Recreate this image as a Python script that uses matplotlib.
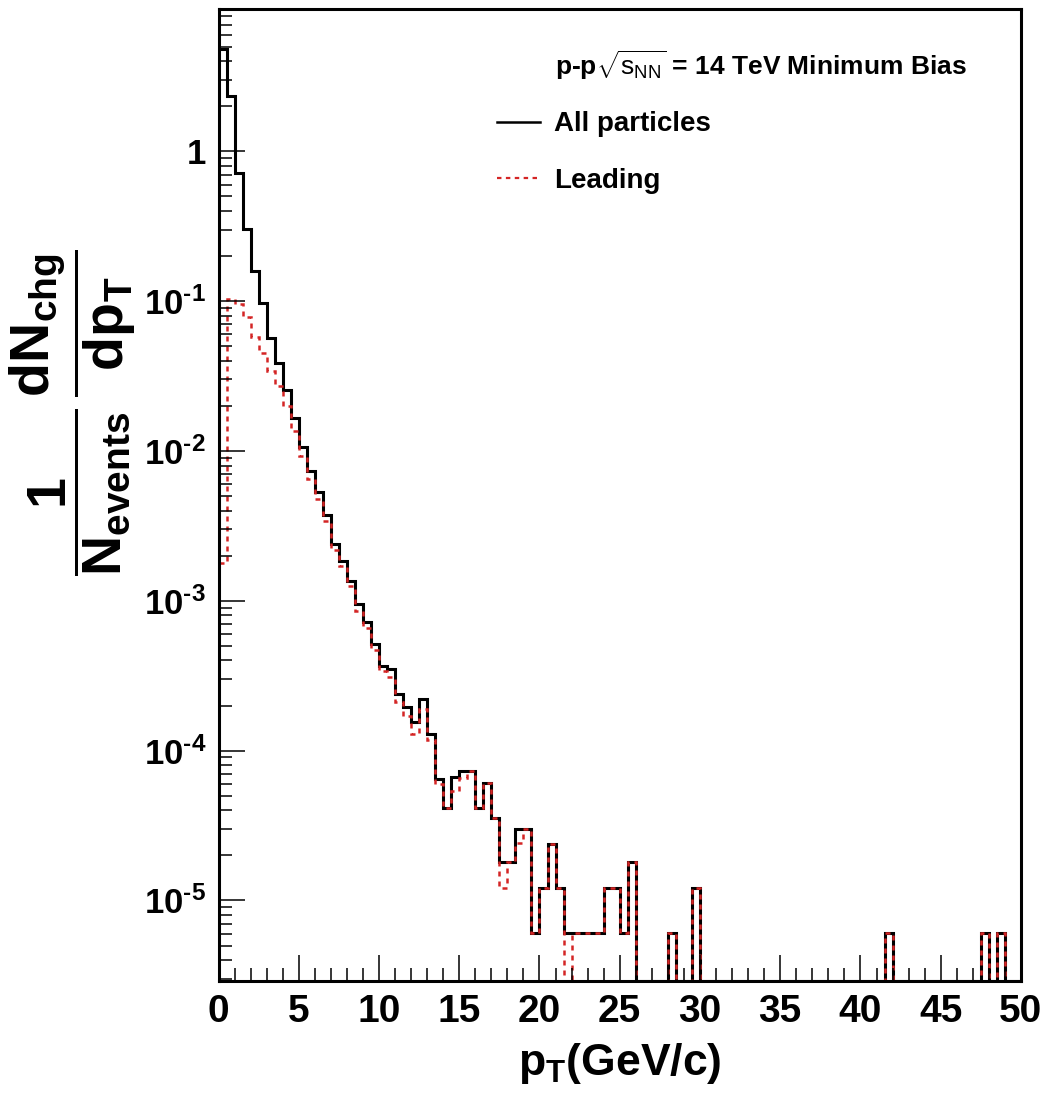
import numpy as np
import matplotlib
matplotlib.use("Agg")
import matplotlib.pyplot as plt
from matplotlib.lines import Line2D
from matplotlib.ticker import MultipleLocator, LogLocator, FuncFormatter, NullFormatter

plt.rcParams['font.family'] = ['Liberation Sans', 'DejaVu Sans']
plt.rcParams['mathtext.fontset'] = 'custom'
plt.rcParams['mathtext.rm'] = 'Liberation Sans'
plt.rcParams['mathtext.it'] = 'Liberation Sans'
plt.rcParams['mathtext.bf'] = 'Liberation Sans:bold'
plt.rcParams['mathtext.default'] = 'bf'

# 100 bins of 0.5 GeV/c from 0 to 50
bin_edges = np.linspace(0, 50, 101)

all_particles = [
    4.8, 2.33, 0.718, 0.304, 0.158, 0.0966, 0.057, 0.0388, 0.0254, 0.0167,
    0.0107, 0.00736, 0.00533, 0.00373, 0.00239, 0.00185, 0.00136, 0.000951, 0.000718, 0.000514,
    0.000369, 0.000350, 0.000239, 0.000195, 0.000155, 0.000221, 0.000129, 6.5e-5, 4.13e-5, 6.65e-5,
    7.36e-5, 7.36e-5, 4.13e-5, 6.09e-5, 3.54e-5, 1.80e-5, 1.80e-5, 3.0e-5, 3.0e-5, 6.06e-6,
    1.21e-5, 2.39e-5, 1.21e-5, 6.06e-6, 6.06e-6, 6.06e-6, 6.06e-6, 6.06e-6, 1.21e-5, 1.21e-5,
    6.06e-6, 1.80e-5, 0, 0, 0, 0, 6.06e-6, 0, 0, 1.21e-5,
    0, 0, 0, 0, 0, 0, 0, 0, 0, 0,
    0, 0, 0, 0, 0, 0, 0, 0, 0, 0,
    0, 0, 0, 6.06e-6, 0, 0, 0, 0, 0, 0,
    0, 0, 0, 0, 0, 6.06e-6, 0, 6.06e-6, 0, 0,
]

leading = [
    0.0018, 0.104, 0.095, 0.078, 0.058, 0.045, 0.034, 0.027, 0.020, 0.0135,
    0.0093, 0.0065, 0.0048, 0.0034, 0.0022, 0.0017, 0.00125, 0.00086, 0.00066, 0.00047,
    0.00034, 0.00031, 0.00021, 0.00017, 0.000129, 0.00019, 0.000118, 6.0e-5, 4.13e-5, 5.4e-5,
    6.6e-5, 7.36e-5, 4.13e-5, 6.09e-5, 3.54e-5, 1.21e-5, 1.80e-5, 2.4e-5, 3.0e-5, 6.06e-6,
    1.21e-5, 2.39e-5, 1.21e-5, 0, 6.06e-6, 6.06e-6, 6.06e-6, 6.06e-6, 1.21e-5, 1.21e-5,
    6.06e-6, 1.80e-5, 0, 0, 0, 0, 6.06e-6, 0, 0, 1.21e-5,
    0, 0, 0, 0, 0, 0, 0, 0, 0, 0,
    0, 0, 0, 0, 0, 0, 0, 0, 0, 0,
    0, 0, 0, 6.06e-6, 0, 0, 0, 0, 0, 0,
    0, 0, 0, 0, 0, 6.06e-6, 0, 6.06e-6, 0, 0,
]

ymin, ymax = 2.9e-6, 8.85
red = '#d42525'
hyphen = '\u2010'

fig = plt.figure(figsize=(10.52, 11.12), dpi=100)
ax = fig.add_axes([0.2077, 0.1178, 0.7628, 0.8737])

# empty bins drawn on the frame bottom, as ROOT does
h_all = np.clip(np.array(all_particles), ymin, None)
h_lead = np.clip(np.array(leading), ymin, None)
ax.stairs(h_all, bin_edges, baseline=None, color='black', lw=2.2)
ax.stairs(h_lead, bin_edges, baseline=None, color=red, lw=1.8, linestyle=(0, (2, 2)))

ax.set_yscale('log')
ax.set_xlim(0, 50)
ax.set_ylim(ymin, ymax)

ax.xaxis.set_major_locator(MultipleLocator(5))
ax.xaxis.set_minor_locator(MultipleLocator(1))
ax.yaxis.set_major_locator(LogLocator(base=10, numticks=20))
ax.yaxis.set_minor_locator(LogLocator(base=10, subs=np.arange(2, 10), numticks=20))
ax.yaxis.set_minor_formatter(NullFormatter())


def ylab(v, pos):
    e = int(round(np.log10(v)))
    if e == 0:
        return '1'
    return '$10^{' + hyphen + '%d}$' % abs(e)


ax.yaxis.set_major_formatter(FuncFormatter(ylab))

ax.tick_params(which='both', direction='in', top=False, right=False, width=1.1)
ax.tick_params(which='major', length=19, pad=9)
ax.tick_params(axis='x', which='major', labelsize=28)
ax.tick_params(axis='y', which='major', labelsize=25)
ax.tick_params(which='minor', length=9.5)
for lab in ax.get_xticklabels() + ax.get_yticklabels():
    lab.set_fontweight('bold')
for s in ax.spines.values():
    s.set_linewidth(2.2)

ax.set_xlabel(r'$p_{T}$(GeV/c)', fontsize=32, fontweight='bold', labelpad=8)
ax.set_ylabel(r'$\dfrac{1}{N_{events}}\,\dfrac{dN_{chg}}{dp_{T}}$', fontsize=40)
ax.yaxis.set_label_coords(-0.1, 0.585)

ax.text(0.419, 0.943, r'p-p$\sqrt{\mathrm{s}_{\mathrm{NN}}}$ = 14 TeV Minimum Bias',
        transform=ax.transAxes, fontsize=19, fontweight='bold', ha='left', va='center')

handles = [Line2D([], [], color='black', lw=1.8),
           Line2D([], [], color=red, lw=1.6, linestyle=(0, (2, 2)))]
ax.legend(handles, ['All particles', 'Leading'], loc='upper left',
          bbox_to_anchor=(0.347, 0.895), frameon=False,
          prop={'size': 20, 'weight': 'bold'},
          handlelength=1.55, handletextpad=0.5, labelspacing=1.1, borderpad=0,
          borderaxespad=0)

fig.savefig('out.png', dpi=100)
